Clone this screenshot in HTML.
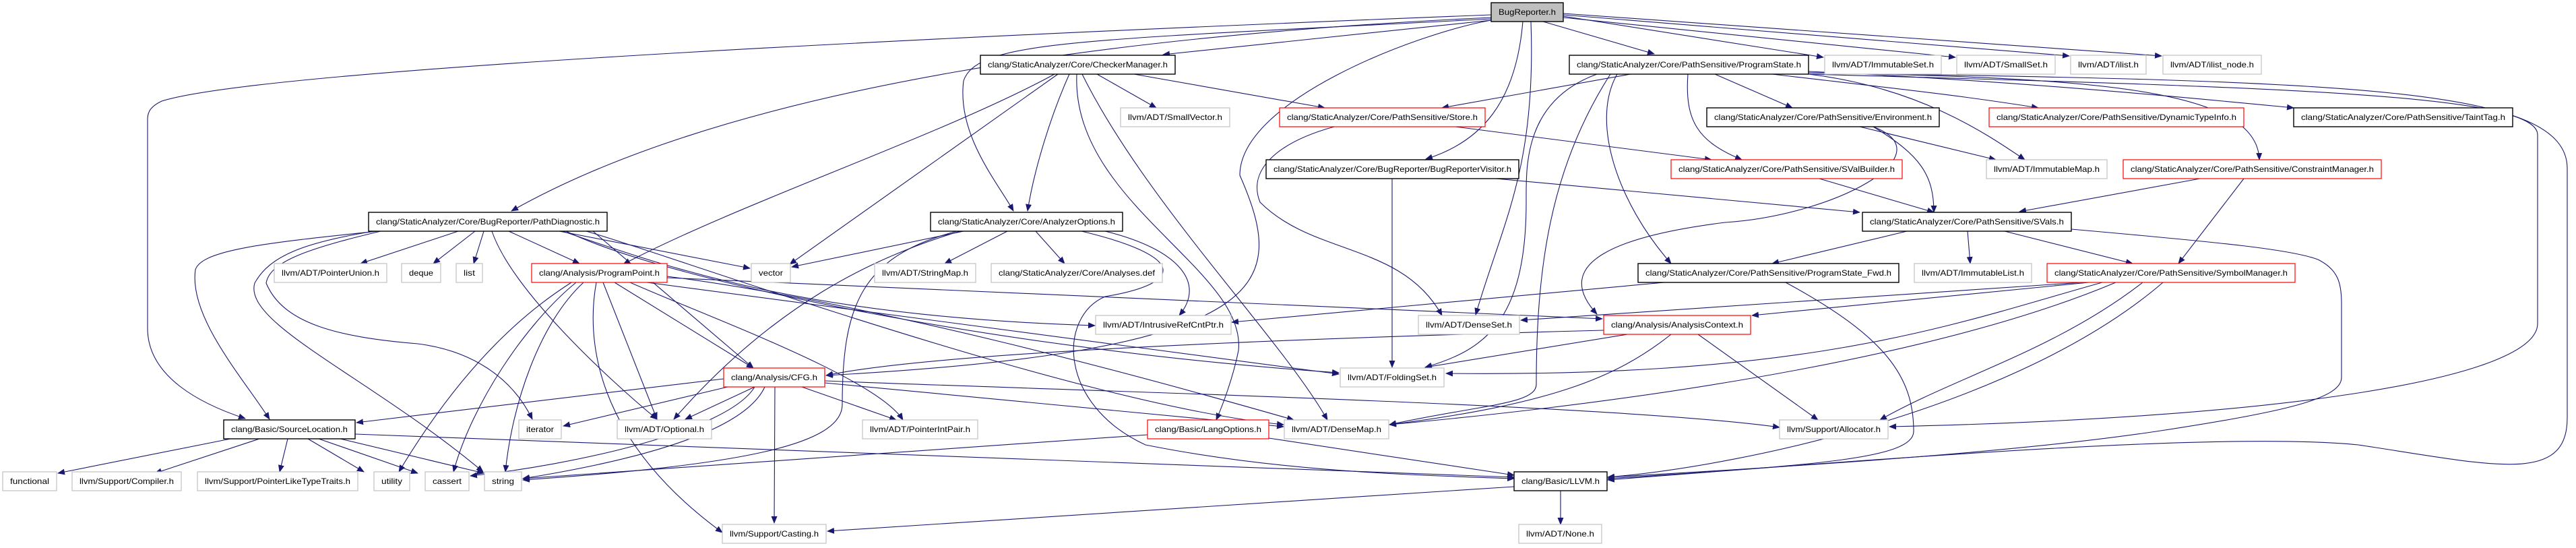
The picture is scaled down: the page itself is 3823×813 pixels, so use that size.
<!DOCTYPE html>
<html><head><meta charset="utf-8"><style>
html,body{margin:0;padding:0;background:#fff;}
svg{display:block;}
text{font-family:"Liberation Sans",sans-serif;font-size:12px;fill:#000;}
.e{fill:none;stroke:#191970;stroke-width:1.1;marker-end:url(#a);}
.g{fill:#fff;stroke:#c0c0c0;stroke-width:1.2;}
.b{fill:#fff;stroke:#000;stroke-width:1.4;}
.r{fill:#fff;stroke:#ff0000;stroke-width:1.2;}
</style></head><body>
<svg width="3823" height="813" viewBox="0 0 3823 813" xmlns="http://www.w3.org/2000/svg">
<defs><marker id="a" markerWidth="11" markerHeight="9" refX="10" refY="4.5" orient="auto" markerUnits="userSpaceOnUse"><path d="M0,0 L11,4.5 L0,9 z" fill="#191970"/></marker></defs>
<g>
<!-- BugReporter -->
<path class="e" d="M2213,26 C1700,50 1100,120 759,313"/>
<path class="e" d="M2213,22 C1500,50 400,100 240,150 C219,160 219,170 219,180 L219,487 C219,560 300,600 364,621"/>
<path class="e" d="M2213,30 L1726,81"/>
<path class="e" d="M2213,28 C1600,60 1450,60 1430,120 C1420,200 1480,270 1504,313"/>
<path class="e" d="M2290,32 L2455,80"/>
<path class="e" d="M2320,24 L2706,85"/>
<path class="e" d="M2320,26 L2902,85"/>
<path class="e" d="M2320,22 L3071,83"/>
<path class="e" d="M2320,20 L3208,83"/>
<path class="e" d="M2260,32 C2250,150 2200,210 2116,236"/>
<path class="e" d="M2272,32 C2280,250 2230,330 2190,467"/>
<path class="e" d="M2213,30 C2100,50 1840,150 1840,260 C1910,420 1900,520 1226,557"/>
<!-- CheckerManager -->
<path class="e" d="M1570,110 L1172,392"/>
<path class="e" d="M1565,110 C1400,200 1100,300 925,392"/>
<path class="e" d="M1587,110 C1560,170 1535,250 1525,313"/>
<path class="e" d="M1628,110 L1716,160"/>
<path class="e" d="M1683,110 L1966,160"/>
<path class="e" d="M1598,110 C1590,300 1850,400 1838,520 C1830,560 1815,600 1805,623"/>
<path class="e" d="M1606,110 C1700,300 1900,500 1970,623"/>
<!-- PathDiagnostic -->
<path class="e" d="M680,343 L535,391"/>
<path class="e" d="M705,343 L643,391"/>
<path class="e" d="M718,343 L703,391"/>
<path class="e" d="M755,343 L860,391"/>
<path class="e" d="M560,343 C400,360 300,370 290,400 C280,470 360,560 400,622"/>
<path class="e" d="M555,343 C450,360 400,380 378,420 C360,480 550,560 717,700"/>
<path class="e" d="M565,343 C450,370 400,390 395,420 C420,480 500,500 620,510 C700,520 760,560 790,622"/>
<path class="e" d="M730,343 C760,430 900,560 975,622"/>
<path class="e" d="M830,343 L1113,398"/>
<path class="e" d="M835,343 C1000,400 1200,470 1625,483"/>
<path class="e" d="M840,343 C1000,420 1500,520 1987,553"/>
<path class="e" d="M870,343 C1000,380 1600,600 1905,630"/>
<path class="e" d="M880,343 L1118,546"/>
<!-- ProgramPoint -->
<path class="e" d="M848,419 C800,450 700,520 592,700"/>
<path class="e" d="M855,419 C780,480 700,600 673,700"/>
<path class="e" d="M866,419 C800,480 760,600 750,700"/>
<path class="e" d="M885,419 C870,500 880,650 1072,790"/>
<path class="e" d="M895,419 L975,622"/>
<path class="e" d="M912,419 L1118,546"/>
<path class="e" d="M935,419 C1050,470 1300,560 1340,623"/>
<path class="e" d="M960,419 L1987,555"/>
<path class="e" d="M990,410 C1300,450 1700,560 1920,623"/>
<path class="e" d="M990,412 L2378,473"/>
<!-- AnalyzerOptions -->
<path class="e" d="M1430,343 L1175,396"/>
<path class="e" d="M1495,343 L1402,391"/>
<path class="e" d="M1537,343 L1580,391"/>
<path class="e" d="M1640,343 C1750,370 1790,420 1750,468"/>
<path class="e" d="M1425,343 C1300,380 1150,450 1000,622"/>
<path class="e" d="M1420,343 C1280,380 1250,450 1250,600 C1250,660 1100,690 776,712"/>
<path class="e" d="M1605,343 C1760,380 1760,420 1640,440 C1570,470 1570,600 1700,660 C1900,700 2100,705 2247,710"/>
<!-- CFG -->
<path class="e" d="M1074,562 L529,627"/>
<path class="e" d="M1080,574 L836,632"/>
<path class="e" d="M1120,574 L1017,622"/>
<path class="e" d="M1150,574 L1149,776"/>
<path class="e" d="M1190,574 L1330,623"/>
<path class="e" d="M1224,568 L1905,633"/>
<path class="e" d="M1224,565 C1600,580 2400,600 2641,634"/>
<path class="e" d="M1135,574 C1100,650 900,690 776,710"/>
<path class="e" d="M1120,574 C1080,640 850,690 698,706"/>
<!-- SourceLocation -->
<path class="e" d="M342,651 L86,702"/>
<path class="e" d="M385,651 L230,702"/>
<path class="e" d="M427,651 L415,700"/>
<path class="e" d="M457,651 L540,700"/>
<path class="e" d="M473,651 L620,702"/>
<path class="e" d="M505,651 L718,702"/>
<path class="e" d="M527,644 C900,660 1800,690 2247,708"/>
<!-- LangOptions / LLVM -->
<path class="e" d="M1703,645 L776,710"/>
<path class="e" d="M1883,650 L2247,705"/>
<path class="e" d="M2316,728 L2316,778"/>
<path class="e" d="M2247,722 L1228,788"/>
<!-- ProgramState -->
<path class="e" d="M2420,110 L2140,160"/>
<path class="e" d="M2545,110 L2660,160"/>
<path class="e" d="M2505,110 C2500,180 2520,210 2585,237"/>
<path class="e" d="M2630,110 C2800,130 2900,140 3025,160"/>
<path class="e" d="M2684,106 C3000,120 3300,150 3404,160"/>
<path class="e" d="M2684,108 C3100,115 3350,130 3353,237"/>
<path class="e" d="M2684,110 C2850,130 2950,200 3005,237"/>
<path class="e" d="M2400,110 C2360,180 2400,300 2480,391"/>
<path class="e" d="M2370,110 C2260,150 2265,250 2265,300 C2265,480 2200,520 2115,545"/>
<path class="e" d="M2390,110 C2300,250 2280,400 2280,570 C2280,600 2200,600 2062,630"/>
<path class="e" d="M2684,108 C3500,120 3810,130 3810,250 L3810,620 C3810,720 3700,690 3500,660 C3300,640 2800,680 2386,712"/>
<path class="e" d="M2684,110 C3400,130 3766,140 3766,200 L3766,480 C3766,560 3400,620 2804,633"/>
<!-- Store / Environment / SValBuilder / Visitor -->
<path class="e" d="M2160,188 L2540,237"/>
<path class="e" d="M1980,188 C1900,210 1850,250 1870,300 C1950,380 2080,360 2140,468"/>
<path class="e" d="M2760,188 L2962,237"/>
<path class="e" d="M2780,188 C2850,230 2870,260 2870,315"/>
<path class="e" d="M2780,188 C2890,230 2720,320 2560,330 C2400,350 2300,390 2370,466"/>
<path class="e" d="M2700,265 L2870,315"/>
<path class="e" d="M2066,265 L2066,545"/>
<path class="e" d="M2220,265 L2760,315"/>
<!-- ConstraintManager / SVals -->
<path class="e" d="M3265,265 L2997,314"/>
<path class="e" d="M3330,265 L3233,391"/>
<path class="e" d="M2830,343 L2630,391"/>
<path class="e" d="M2920,343 L2924,391"/>
<path class="e" d="M2975,343 L3165,391"/>
<path class="e" d="M3074,340 C3300,360 3400,370 3440,385 C3470,400 3475,420 3475,450 L3475,560 C3475,590 3400,610 3200,640 C3000,670 2700,690 2386,708"/>
<!-- ProgramState_Fwd -->
<path class="e" d="M2470,419 L1828,478"/>
<path class="e" d="M2650,419 C2800,500 2840,560 2840,640 C2840,680 2700,690 2386,710"/>
<!-- SymbolManager -->
<path class="e" d="M3090,419 L2257,475"/>
<path class="e" d="M3100,419 L2600,468"/>
<path class="e" d="M3120,419 C2900,480 2700,560 2146,554"/>
<path class="e" d="M3140,419 C2900,520 2500,590 2062,630"/>
<path class="e" d="M3180,419 C3050,520 2900,560 2790,623"/>
<path class="e" d="M3210,419 C3000,600 2600,690 2386,708"/>
<!-- AnalysisContext -->
<path class="e" d="M2415,496 L2115,545"/>
<path class="e" d="M2480,496 C2400,560 2300,600 2062,630"/>
<path class="e" d="M2520,496 L2698,623"/>
<path class="e" d="M2380,490 C2000,500 1400,520 1226,557"/>
</g>
<g>
<rect x="2213" y="4" width="107" height="28" fill="#bfbfbf" stroke="#000" stroke-width="1.4"/><text x="2266.5" y="22" text-anchor="middle" textLength="85" lengthAdjust="spacingAndGlyphs">BugReporter.h</text>
<rect class="b" x="1455" y="82" width="289" height="28"/><text x="1599.5" y="100" text-anchor="middle" textLength="267" lengthAdjust="spacingAndGlyphs">clang/StaticAnalyzer/Core/CheckerManager.h</text>
<rect class="b" x="2329" y="82" width="355" height="28"/><text x="2506.5" y="100" text-anchor="middle" textLength="333" lengthAdjust="spacingAndGlyphs">clang/StaticAnalyzer/Core/PathSensitive/ProgramState.h</text>
<rect class="g" x="2708" y="82" width="173" height="28"/><text x="2794.5" y="100" text-anchor="middle" textLength="151" lengthAdjust="spacingAndGlyphs">llvm/ADT/ImmutableSet.h</text>
<rect class="g" x="2904" y="82" width="146" height="28"/><text x="2977" y="100" text-anchor="middle" textLength="124" lengthAdjust="spacingAndGlyphs">llvm/ADT/SmallSet.h</text>
<rect class="g" x="3073" y="82" width="112" height="28"/><text x="3129" y="100" text-anchor="middle" textLength="90" lengthAdjust="spacingAndGlyphs">llvm/ADT/ilist.h</text>
<rect class="g" x="3210" y="82" width="146" height="28"/><text x="3283" y="100" text-anchor="middle" textLength="124" lengthAdjust="spacingAndGlyphs">llvm/ADT/ilist_node.h</text>
<rect class="g" x="1663" y="160" width="162" height="28"/><text x="1744" y="178" text-anchor="middle" textLength="140" lengthAdjust="spacingAndGlyphs">llvm/ADT/SmallVector.h</text>
<rect class="r" x="1899" y="160" width="305" height="28"/><text x="2051.5" y="178" text-anchor="middle" textLength="283" lengthAdjust="spacingAndGlyphs">clang/StaticAnalyzer/Core/PathSensitive/Store.h</text>
<rect class="b" x="2533" y="160" width="345" height="28"/><text x="2705.5" y="178" text-anchor="middle" textLength="323" lengthAdjust="spacingAndGlyphs">clang/StaticAnalyzer/Core/PathSensitive/Environment.h</text>
<rect class="r" x="2952" y="160" width="378" height="28"/><text x="3141" y="178" text-anchor="middle" textLength="356" lengthAdjust="spacingAndGlyphs">clang/StaticAnalyzer/Core/PathSensitive/DynamicTypeInfo.h</text>
<rect class="b" x="3404" y="160" width="325" height="28"/><text x="3566.5" y="178" text-anchor="middle" textLength="303" lengthAdjust="spacingAndGlyphs">clang/StaticAnalyzer/Core/PathSensitive/TaintTag.h</text>
<rect class="b" x="1879" y="237" width="375" height="28"/><text x="2066.5" y="255" text-anchor="middle" textLength="353" lengthAdjust="spacingAndGlyphs">clang/StaticAnalyzer/Core/BugReporter/BugReporterVisitor.h</text>
<rect class="r" x="2480" y="237" width="343" height="28"/><text x="2651.5" y="255" text-anchor="middle" textLength="321" lengthAdjust="spacingAndGlyphs">clang/StaticAnalyzer/Core/PathSensitive/SValBuilder.h</text>
<rect class="g" x="2948" y="237" width="179" height="28"/><text x="3037.5" y="255" text-anchor="middle" textLength="157" lengthAdjust="spacingAndGlyphs">llvm/ADT/ImmutableMap.h</text>
<rect class="r" x="3151" y="237" width="383" height="28"/><text x="3342.5" y="255" text-anchor="middle" textLength="361" lengthAdjust="spacingAndGlyphs">clang/StaticAnalyzer/Core/PathSensitive/ConstraintManager.h</text>
<rect class="b" x="547" y="315" width="354" height="28"/><text x="724" y="333" text-anchor="middle" textLength="332" lengthAdjust="spacingAndGlyphs">clang/StaticAnalyzer/Core/BugReporter/PathDiagnostic.h</text>
<rect class="b" x="1381" y="315" width="285" height="28"/><text x="1523.5" y="333" text-anchor="middle" textLength="263" lengthAdjust="spacingAndGlyphs">clang/StaticAnalyzer/Core/AnalyzerOptions.h</text>
<rect class="b" x="2764" y="315" width="310" height="28"/><text x="2919" y="333" text-anchor="middle" textLength="288" lengthAdjust="spacingAndGlyphs">clang/StaticAnalyzer/Core/PathSensitive/SVals.h</text>
<rect class="g" x="407" y="391" width="167" height="28"/><text x="490.5" y="409" text-anchor="middle" textLength="145" lengthAdjust="spacingAndGlyphs">llvm/ADT/PointerUnion.h</text>
<rect class="g" x="596" y="391" width="58" height="28"/><text x="625" y="409" text-anchor="middle" textLength="36" lengthAdjust="spacingAndGlyphs">deque</text>
<rect class="g" x="677" y="391" width="39" height="28"/><text x="696.5" y="409" text-anchor="middle" textLength="17" lengthAdjust="spacingAndGlyphs">list</text>
<rect class="r" x="789" y="391" width="201" height="28"/><text x="889.5" y="409" text-anchor="middle" textLength="179" lengthAdjust="spacingAndGlyphs">clang/Analysis/ProgramPoint.h</text>
<rect class="g" x="1115" y="391" width="58" height="28"/><text x="1144" y="409" text-anchor="middle" textLength="36" lengthAdjust="spacingAndGlyphs">vector</text>
<rect class="g" x="1298" y="391" width="150" height="28"/><text x="1373" y="409" text-anchor="middle" textLength="128" lengthAdjust="spacingAndGlyphs">llvm/ADT/StringMap.h</text>
<rect class="g" x="1471" y="391" width="254" height="28"/><text x="1598" y="409" text-anchor="middle" textLength="232" lengthAdjust="spacingAndGlyphs">clang/StaticAnalyzer/Core/Analyses.def</text>
<rect class="b" x="2431" y="391" width="387" height="28"/><text x="2624.5" y="409" text-anchor="middle" textLength="365" lengthAdjust="spacingAndGlyphs">clang/StaticAnalyzer/Core/PathSensitive/ProgramState_Fwd.h</text>
<rect class="g" x="2841" y="391" width="174" height="28"/><text x="2928" y="409" text-anchor="middle" textLength="152" lengthAdjust="spacingAndGlyphs">llvm/ADT/ImmutableList.h</text>
<rect class="r" x="3038" y="391" width="368" height="28"/><text x="3222" y="409" text-anchor="middle" textLength="346" lengthAdjust="spacingAndGlyphs">clang/StaticAnalyzer/Core/PathSensitive/SymbolManager.h</text>
<rect class="g" x="1626" y="468" width="201" height="28"/><text x="1726.5" y="486" text-anchor="middle" textLength="179" lengthAdjust="spacingAndGlyphs">llvm/ADT/IntrusiveRefCntPtr.h</text>
<rect class="g" x="2105" y="468" width="150" height="28"/><text x="2180" y="486" text-anchor="middle" textLength="128" lengthAdjust="spacingAndGlyphs">llvm/ADT/DenseSet.h</text>
<rect class="r" x="2380" y="468" width="218" height="28"/><text x="2489" y="486" text-anchor="middle" textLength="196" lengthAdjust="spacingAndGlyphs">clang/Analysis/AnalysisContext.h</text>
<rect class="r" x="1074" y="546" width="150" height="28"/><text x="1149" y="564" text-anchor="middle" textLength="128" lengthAdjust="spacingAndGlyphs">clang/Analysis/CFG.h</text>
<rect class="g" x="1989" y="546" width="154" height="28"/><text x="2066" y="564" text-anchor="middle" textLength="132" lengthAdjust="spacingAndGlyphs">llvm/ADT/FoldingSet.h</text>
<rect class="b" x="332" y="623" width="195" height="28"/><text x="429.5" y="641" text-anchor="middle" textLength="173" lengthAdjust="spacingAndGlyphs">clang/Basic/SourceLocation.h</text>
<rect class="g" x="770" y="623" width="63" height="28"/><text x="801.5" y="641" text-anchor="middle" textLength="41" lengthAdjust="spacingAndGlyphs">iterator</text>
<rect class="g" x="916" y="623" width="140" height="28"/><text x="986" y="641" text-anchor="middle" textLength="118" lengthAdjust="spacingAndGlyphs">llvm/ADT/Optional.h</text>
<rect class="g" x="1280" y="623" width="171" height="28"/><text x="1365.5" y="641" text-anchor="middle" textLength="149" lengthAdjust="spacingAndGlyphs">llvm/ADT/PointerIntPair.h</text>
<rect class="r" x="1703" y="623" width="180" height="28"/><text x="1793" y="641" text-anchor="middle" textLength="158" lengthAdjust="spacingAndGlyphs">clang/Basic/LangOptions.h</text>
<rect class="g" x="1906" y="623" width="155" height="28"/><text x="1983.5" y="641" text-anchor="middle" textLength="133" lengthAdjust="spacingAndGlyphs">llvm/ADT/DenseMap.h</text>
<rect class="g" x="2641" y="623" width="161" height="28"/><text x="2721.5" y="641" text-anchor="middle" textLength="139" lengthAdjust="spacingAndGlyphs">llvm/Support/Allocator.h</text>
<rect class="g" x="4" y="700" width="80" height="28"/><text x="44" y="718" text-anchor="middle" textLength="58" lengthAdjust="spacingAndGlyphs">functional</text>
<rect class="g" x="107" y="700" width="162" height="28"/><text x="188" y="718" text-anchor="middle" textLength="140" lengthAdjust="spacingAndGlyphs">llvm/Support/Compiler.h</text>
<rect class="g" x="293" y="700" width="238" height="28"/><text x="412" y="718" text-anchor="middle" textLength="216" lengthAdjust="spacingAndGlyphs">llvm/Support/PointerLikeTypeTraits.h</text>
<rect class="g" x="555" y="700" width="53" height="28"/><text x="581.5" y="718" text-anchor="middle" textLength="31" lengthAdjust="spacingAndGlyphs">utility</text>
<rect class="g" x="631" y="700" width="65" height="28"/><text x="663.5" y="718" text-anchor="middle" textLength="43" lengthAdjust="spacingAndGlyphs">cassert</text>
<rect class="g" x="719" y="700" width="55" height="28"/><text x="746.5" y="718" text-anchor="middle" textLength="33" lengthAdjust="spacingAndGlyphs">string</text>
<rect class="b" x="2247" y="700" width="138" height="28"/><text x="2316" y="718" text-anchor="middle" textLength="116" lengthAdjust="spacingAndGlyphs">clang/Basic/LLVM.h</text>
<rect class="g" x="1072" y="778" width="154" height="28"/><text x="1149" y="796" text-anchor="middle" textLength="132" lengthAdjust="spacingAndGlyphs">llvm/Support/Casting.h</text>
<rect class="g" x="2254" y="778" width="123" height="28"/><text x="2315.5" y="796" text-anchor="middle" textLength="101" lengthAdjust="spacingAndGlyphs">llvm/ADT/None.h</text>
</g>
</svg>
</body></html>
